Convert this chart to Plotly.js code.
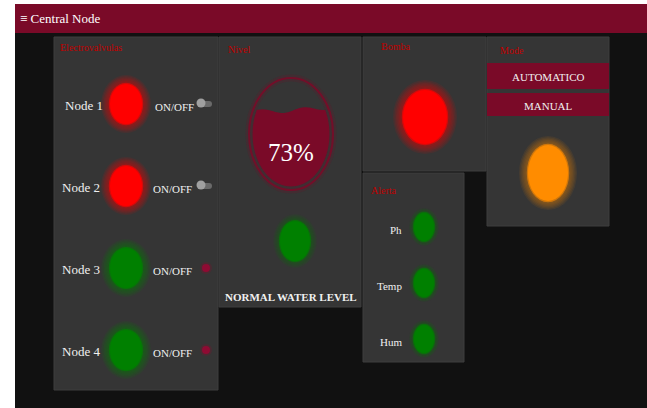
<!DOCTYPE html>
<html><head><meta charset="utf-8">
<script src="https://cdn.plot.ly/plotly-3.0.1.min.js"></script>
<style>html,body{margin:0;padding:0;background:#fff;overflow:hidden}</style>
</head><body><div id="chart" style="width:647px;height:408px"></div>
<script>
// ---- data ----
const headerTitle = '≡ Central Node';
const panelTitles = ['Electrovalvulas','Nivel','Bomba','Alerta','Mode'];
const valveNodes = ['Node 1','Node 2','Node 3','Node 4'];
const valveStates = ['off','off','on','on'];      // red = off, green = on
const switchStates = ['off','off','on','on'];
const switchLabel = 'ON/OFF';
const waterLevel = 73;
const waterStatus = 'NORMAL WATER LEVEL';
const waterStatusState = 'on';
const pumpState = 'off';
const alertSensors = ['Ph','Temp','Hum'];
const alertStates = ['on','on','on'];
const modeOptions = ['AUTOMATICO','MANUAL'];
const modeState = 'wait';

// ---- style ----
const FONT = 'Liberation Serif';
const CRIMSON = '#7a0a28';
const PANEL = '#353535';
const stateRGB = {off:'255,0,0', on:'0,128,0', wait:'255,140,0'};
const shapes = [];
const ann = [];

function rect(x0,y0,x1,y1,fill,line){
  shapes.push({type:'rect',xref:'x',yref:'y',x0,x1,y0,y1,fillcolor:fill,line:line||{width:0}});
}
function ell(cx,cy,rx,ry,fill,line){
  shapes.push({type:'circle',xref:'x',yref:'y',x0:cx-rx,x1:cx+rx,y0:cy-ry,y1:cy+ry,fillcolor:fill,line:line||{width:0}});
}
function glow(cx,cy,rx,ry,state,spread,alpha){
  const rgb = stateRGB[state];
  const n = 7;
  for(let i=n;i>=1;i--){
    const s = spread*i/n;
    ell(cx,cy,rx+s,ry+s,`rgba(${rgb},${alpha})`);
  }
  ell(cx,cy,rx+1.2,ry+1.2,`rgba(${rgb},0.6)`);
  ell(cx,cy,rx,ry,`rgb(${rgb})`);
}
function text(x,y,t,size,color,opts){
  ann.push(Object.assign({xref:'x',yref:'y',x,y,text:t,showarrow:false,xanchor:'left',yanchor:'middle',
    font:{family:FONT,size,color}},opts||{}));
}

// background + header
rect(15,4,647,33,CRIMSON);
rect(15,33,647,408,'#111111');
text(18,18,headerTitle,13,'#ffffff');

// panels
const panelBoxes = [[54,37,218,390],[219,37,361,307],[363,37,486,171],[363,173,464,362],[487,37,609,226]];
const titlePos = [[58,47],[226,49],[379,46],[369,190],[498,50]];
panelBoxes.forEach((b,i)=>{
  rect(b[0],b[1],b[2],b[3],PANEL,{color:'#3e3e3e',width:1});
  text(titlePos[i][0],titlePos[i][1],panelTitles[i],10,'#c00000');
});

// Electrovalvulas
valveNodes.forEach((name,i)=>{
  const y = 104 + i*82;
  text(i===0?63:60, y+1, name, 13, '#f0f0f0');
  glow(126, y, 16, 20, valveStates[i], 9, 0.09);
  text(i===0?153:151, y+3, switchLabel, 11, '#f0f0f0');
  if(switchStates[i]==='off'){
    shapes.push({type:'line',xref:'x',yref:'y',x0:202,x1:209,y0:y,y1:y,line:{color:'#6a6a6a',width:6}});
    ell(209,y,3,3,'#6a6a6a');
    ell(201,y-1,4.5,4.5,'#a0a0a0');
  } else {
    ell(206,y,6,6,'rgba(140,10,45,0.25)');
    ell(206,y,4,4,'#8e0b33');
  }
});

// Nivel tank
function tankPath(cx,cy,a,b,level){
  const yL = cy + b - (level/100)*2*b;
  const dy = yL - cy;
  const halfW = a*Math.sqrt(Math.max(0,1-(dy*dy)/(b*b)));
  const xl = cx-halfW, xr = cx+halfW;
  const pts = [];
  const N = 48;
  for(let i=0;i<=N;i++){
    const x = xl+(xr-xl)*i/N;
    const env = Math.sin(Math.PI*i/N);
    let y = yL - 3.5*Math.cos(2*Math.PI*(x-(cx-37))/54)*env;
    const ux = (x-cx)/a;
    const yTop = cy - b*Math.sqrt(Math.max(0,1-ux*ux));
    if(y<yTop) y=yTop;
    pts.push([x,y]);
  }
  const tR = Math.atan2(dy/b, halfW/a);
  for(let i=1;i<N;i++){
    const t = tR+(Math.PI-2*tR)*i/N;
    pts.push([cx+a*Math.cos(t), cy+b*Math.sin(t)]);
  }
  return 'M'+pts.map(p=>p[0].toFixed(2)+','+p[1].toFixed(2)).join('L')+'Z';
}
ell(291,134,42,56,'rgba(0,0,0,0)',{color:'rgba(122,10,40,0.18)',width:7});
ell(291,134,42,56,'rgba(0,0,0,0)',{color:'rgba(122,10,40,0.85)',width:2});
shapes.push({type:'path',xref:'x',yref:'y',path:tankPath(291,134,38.5,52.5,waterLevel),fillcolor:'#7a0a28',line:{width:0}});
text(291,152,waterLevel+'%',25,'#ffffff',{xanchor:'center'});
glow(295,241,15,20,waterStatusState,7,0.07);
text(291,297,'<b>'+waterStatus+'</b>',11,'#f0f0f0',{xanchor:'center'});

// Bomba
glow(425,117,22,27,pumpState,10,0.09);

// Alerta
alertSensors.forEach((s,i)=>{
  const y = 227 + i*56;
  text(404, y+3, s, 11, '#f0f0f0', {xanchor:'right'});
  glow(424, y, 10, 14, alertStates[i], 5, 0.07);
});

// Mode
modeOptions.forEach((m,i)=>{
  const y0 = 63 + i*30, y1 = y0 + (i===0?26:23);
  rect(487,y0,609,y1,CRIMSON);
  text(548,(y0+y1)/2+1,m,11,'#f0f0f0',{xanchor:'center'});
});
glow(548,173,20,28,modeState,9,0.08);

const layout = {
  width:647,height:408,margin:{l:0,r:0,t:0,b:0},
  paper_bgcolor:'#ffffff',plot_bgcolor:'#ffffff',
  xaxis:{range:[0,647],visible:false,fixedrange:true},
  yaxis:{range:[408,0],visible:false,fixedrange:true},
  shapes, annotations:ann, showlegend:false
};
Plotly.newPlot('chart',[],layout,{displayModeBar:false,staticPlot:true});
</script></body></html>
